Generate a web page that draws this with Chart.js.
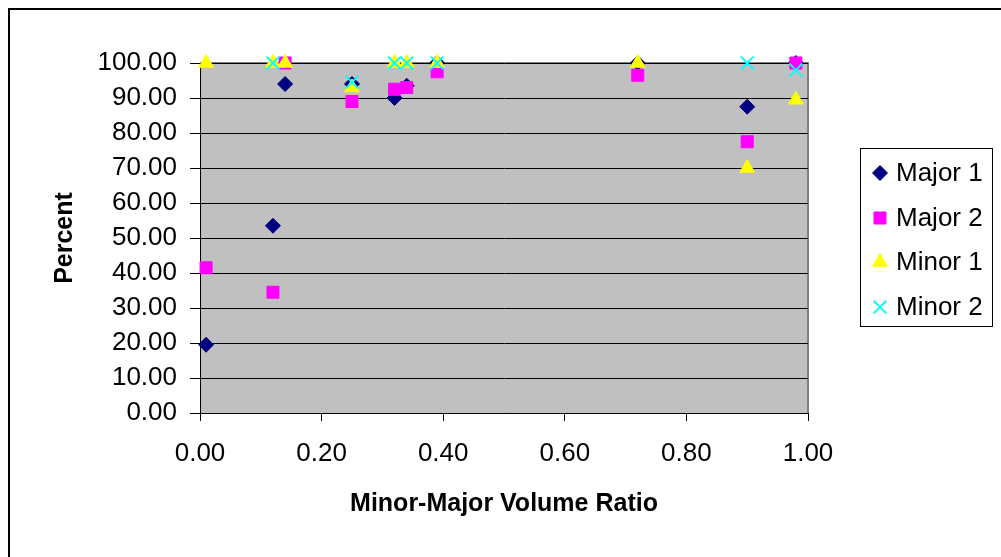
<!DOCTYPE html>
<html>
<head>
<meta charset="utf-8">
<script src="https://cdn.jsdelivr.net/npm/chart.js@4.4.1/dist/chart.umd.min.js"></script>
<style>
  html, body { margin: 0; padding: 0; background: #ffffff; }
  #wrap { width: 1001px; height: 557px; }
</style>
</head>
<body>
<div id="wrap"><canvas id="c" width="1001" height="557"></canvas></div>
<script>
// ---- data ----
const seriesNames = ["Major 1", "Major 2", "Minor 1", "Minor 2"];
const ratioX = [0.01, 0.12, 0.14, 0.25, 0.32, 0.34, 0.39, 0.72, 0.90, 0.98];
const major1 = [19.5, 53.5, 94.0, 94.0, 90.0, 93.5, 100.0, 100.0, 87.5, 100.0];
const major2 = [41.5, 34.5, 100.0, 89.0, 92.5, 93.0, 97.5, 96.5, 77.5, 100.0];
const minor1 = [100.0, 100.0, 100.0, 93.0, 100.0, 100.0, 100.0, 100.0, 70.0, 89.5];
const minor2 = [null, 100.0, null, 94.5, 100.0, 100.0, 100.0, null, 100.0, 98.0];
const yTicks = [0, 10, 20, 30, 40, 50, 60, 70, 80, 90, 100];
const xTicks = [0, 0.2, 0.4, 0.6, 0.8, 1.0];

const FONT = "'Liberation Sans', Arial, Helvetica, sans-serif";

function pts(vals) {
  const out = [];
  vals.forEach((v, i) => { if (v !== null) out.push({ x: ratioX[i], y: v }); });
  return out;
}

const styles = [
  { color: "#000080", pointStyle: "rectRot", radius: 7.5, order: 4, bw: 1 },
  { color: "#FF00FF", pointStyle: "rect", radius: 8.5, order: 3, bw: 1 },
  { color: "#FFFF00", pointStyle: "triangle", radius: 8.5, order: 2, bw: 1 },
  { color: "#00FFFF", pointStyle: "crossRot", radius: 9, order: 1, bw: 2 }
];
const allSeries = [major1, major2, minor1, minor2];

const datasets = allSeries.map((vals, i) => ({
  label: seriesNames[i],
  data: pts(vals),
  showLine: false,
  clip: false,
  pointStyle: styles[i].pointStyle,
  pointRadius: styles[i].radius,
  pointHoverRadius: styles[i].radius,
  backgroundColor: styles[i].color,
  borderColor: styles[i].color,
  borderWidth: styles[i].bw,
  order: styles[i].order
}));

const framePlugin = {
  id: "frame",
  beforeDraw(chart) {
    const ctx = chart.ctx;
    const a = chart.chartArea;
    ctx.save();
    ctx.fillStyle = "#ffffff";
    ctx.fillRect(0, 0, chart.width, chart.height);
    ctx.fillStyle = "#C0C0C0";
    ctx.fillRect(a.left, a.top, a.right - a.left, a.bottom - a.top);
    ctx.strokeStyle = "#808080";
    ctx.lineWidth = 2;
    ctx.beginPath();
    ctx.moveTo(a.left, a.top);
    ctx.lineTo(a.right, a.top);
    ctx.lineTo(a.right, a.bottom);
    ctx.stroke();
    ctx.restore();
  },
  afterDraw(chart) {
    const ctx = chart.ctx;
    ctx.save();
    // outer chart frame
    ctx.strokeStyle = "#000000";
    ctx.lineWidth = 2;
    ctx.strokeRect(9, 9, 1100, 700);
    // legend box
    ctx.lineWidth = 1;
    ctx.strokeStyle = "#000000";
    ctx.strokeRect(860.5, 148.5, 132, 178);
    const rowY = [173, 218, 262, 307];
    chart.data.datasets.forEach((ds, i) => {
      const y = rowY[i];
      ctx.fillStyle = ds.backgroundColor;
      ctx.strokeStyle = ds.borderColor;
      ctx.lineWidth = ds.borderWidth;
      Chart.helpers.drawPoint(ctx, { pointStyle: ds.pointStyle, radius: ds.pointRadius, borderWidth: ds.borderWidth, rotation: 0 }, 880, y);
      ctx.fillStyle = "#000000";
      ctx.font = "26px " + FONT;
      ctx.textAlign = "left";
      ctx.textBaseline = "middle";
      ctx.fillText(ds.label, 896, y + 1);
    });
    ctx.restore();
  }
};

new Chart(document.getElementById("c"), {
  type: "scatter",
  data: { datasets },
  options: {
    responsive: false,
    devicePixelRatio: 1,
    animation: false,
    layout: { padding: { left: 0, top: 63, right: 193, bottom: 0 } },
    plugins: { legend: { display: false }, tooltip: { enabled: false } },
    scales: {
      x: {
        type: "linear",
        min: 0, max: 1,
        afterFit(s) { s.height = 144; },
        afterBuildTicks(s) { s.ticks = xTicks.map(v => ({ value: v })); },
        ticks: {
          callback: v => Number(v).toFixed(2),
          color: "#000000",
          font: { family: FONT, size: 26 },
          padding: 17,
          maxRotation: 0
        },
        grid: { drawOnChartArea: false, drawTicks: true, tickLength: 8, color: "#000000", lineWidth: 1 },
        border: { display: true, color: "#000000", width: 1 },
        title: {
          display: true,
          text: "Minor-Major Volume Ratio",
          color: "#000000",
          font: { family: FONT, size: 25, weight: "bold" },
          padding: { top: 0, bottom: 38 }
        }
      },
      y: {
        type: "linear",
        min: 0, max: 100,
        afterFit(s) { s.width = 200; },
        afterBuildTicks(s) { s.ticks = yTicks.map(v => ({ value: v })); },
        ticks: {
          callback: v => Number(v).toFixed(2),
          color: "#000000",
          font: { family: FONT, size: 26 },
          padding: 13
        },
        grid: { drawOnChartArea: true, drawTicks: true, tickLength: 10, color: "#000000", lineWidth: 1 },
        border: { display: true, color: "#000000", width: 1 },
        title: {
          display: true,
          text: "Percent",
          color: "#000000",
          font: { family: FONT, size: 25, weight: "bold" },
          padding: { top: 50, bottom: 0 }
        }
      }
    }
  },
  plugins: [framePlugin]
});
</script>
</body>
</html>
